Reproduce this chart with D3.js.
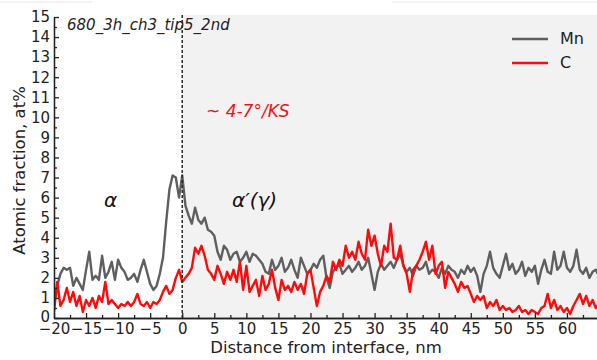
<!DOCTYPE html>
<html lang="en">
<head>
<meta charset="UTF-8">
<title>Atomic fraction profile</title>
<style>
html,body{margin:0; width:597px; height:360px; overflow:hidden; background:#fff; font-family:"DejaVu Sans", Arial, sans-serif;}
svg{display:block;}
.axis text{font-family:"DejaVu Sans", sans-serif; font-size:15px; fill:#222;}
.axis path,.axis line{stroke:#222; stroke-width:1.3;}
</style>
</head>
<body>
<svg width="597" height="360"></svg>
<script src="https://d3js.org/d3.v7.min.js"></script>
<script>
// distance grid, nm (0.5 nm step from -20 to 65)
const startNm = -20, stepNm = 0.5;

// Mn, at% (one row = 5 nm)
const mnValues = [
  0.8,1.6,2.2,2.5,2.4,2.5,1.6,2.0,1.7,1.4,
  2.4,3.3,1.9,2.1,1.9,3.1,2.0,2.3,2.8,1.9,
  2.9,2.5,2.3,1.9,2.0,2.2,1.8,2.4,2.9,2.3,
  1.7,1.4,1.6,2.2,3.0,4.8,6.4,7.1,7.0,6.0,
  7.1,5.6,5.1,4.7,5.5,4.9,4.7,5.0,4.4,4.3,
  4.1,3.3,2.9,3.6,3.4,2.9,3.2,3.3,2.8,3.0,
  3.3,2.8,3.2,3.1,2.9,2.7,2.3,2.2,2.9,2.4,
  2.6,3.0,2.3,2.5,2.9,2.4,2.0,3.0,2.6,2.2,
  2.4,2.7,2.5,2.9,3.1,2.0,1.5,2.3,2.5,2.7,
  2.2,2.4,2.6,2.3,2.5,2.8,2.4,2.6,3.0,2.2,
  1.4,2.3,2.7,2.4,2.6,2.8,2.5,2.9,3.2,2.6,
  2.3,2.5,2.1,2.6,2.4,2.5,2.8,2.2,2.4,2.3,
  2.0,2.5,2.2,2.6,2.4,2.3,2.0,2.4,2.2,2.6,
  2.3,2.5,2.1,1.3,2.2,2.6,3.3,2.5,2.2,2.0,
  2.6,3.2,2.4,2.7,2.2,2.4,2.8,2.1,2.5,2.3,
  2.6,1.7,2.4,2.9,2.3,2.2,3.3,2.4,2.6,3.3,
  2.5,2.3,2.6,3.4,2.4,2.2,2.5,2.0,2.3,2.4,
  2.1
];

// C, at%
const cValues = [
  0.3,1.8,0.6,0.9,1.5,0.8,1.3,0.6,1.1,0.3,
  0.9,0.6,1.0,0.5,1.1,0.8,1.8,0.7,0.9,0.7,
  0.5,0.7,0.6,0.8,0.6,0.8,1.2,0.7,0.6,0.8,
  0.5,0.8,0.7,0.9,1.3,1.6,1.2,1.4,2.0,2.4,
  1.8,2.0,2.2,2.5,3.5,3.2,3.6,3.1,2.4,2.2,
  1.9,2.6,2.2,1.7,2.3,1.9,2.4,1.8,2.8,1.4,
  2.6,1.3,1.6,1.9,1.1,2.1,1.4,1.7,2.4,1.5,
  0.9,1.9,1.4,1.6,1.3,1.8,1.4,1.7,1.2,2.2,
  2.4,1.5,0.6,1.3,1.6,2.1,1.8,2.8,2.4,2.9,
  2.6,3.6,3.0,3.3,2.9,3.8,3.2,2.9,4.4,3.6,
  4.1,3.2,2.6,3.6,3.3,4.7,3.0,2.9,3.6,2.6,
  2.2,1.3,2.4,2.6,2.9,3.3,3.8,2.9,3.6,2.2,
  2.6,2.8,1.5,2.3,2.0,1.7,1.3,1.8,1.5,1.6,
  1.2,0.8,1.1,0.9,1.1,0.5,0.8,0.6,0.9,0.4,
  0.6,0.4,0.5,0.3,0.4,0.6,0.3,0.4,0.2,0.4,
  0.3,0.2,0.5,0.6,1.2,0.5,0.9,0.4,0.6,0.3,
  0.5,0.2,0.6,0.9,1.2,0.7,1.1,0.6,0.9,0.5,
  0.7
];

const seriesNames = ["Mn", "C"];
const seriesColors = ["#5f5f5f", "#ff0a0a"];
const xMajorTicks = d3.range(-20, 61, 5);
const yMajorTicks = d3.range(0, 16, 1);

const svg = d3.select("svg");
const x = d3.scaleLinear().domain([-20, 65]).range([54, 599]);
const y = d3.scaleLinear().domain([0, 15]).range([318, 17]);

// shaded α'(γ) side
svg.append("rect")
  .attr("x", x(0)).attr("y", 15)
  .attr("width", x(65) - x(0) + 2).attr("height", y(0) - 15)
  .attr("fill", "#f2f2f2");

// faint strip at the top (cropped figure edge)
svg.append("line").attr("x1", 0).attr("x2", 92).attr("y1", 2).attr("y2", 2).attr("stroke", "#e6e6e6");
svg.append("line").attr("x1", 392).attr("x2", 597).attr("y1", 2).attr("y2", 2).attr("stroke", "#e6e6e6");

svg.append("clipPath").attr("id", "plot").append("rect")
  .attr("x", x(-20)).attr("y", y(15)).attr("width", x(65) - x(-20)).attr("height", y(0) - y(15));

const line = d3.line()
  .x((d, i) => x(startNm + i * stepNm))
  .y(d => y(d));

const lines = svg.append("g").attr("clip-path", "url(#plot)");
[mnValues, cValues].forEach((vals, k) => {
  lines.append("path")
    .datum(vals)
    .attr("d", line)
    .attr("fill", "none")
    .attr("stroke", seriesColors[k])
    .attr("stroke-width", 2.4)
    .attr("stroke-linejoin", "round");
});

// interface
svg.append("line")
  .attr("x1", x(0)).attr("x2", x(0))
  .attr("y1", 15).attr("y2", y(0))
  .attr("stroke", "#2a2a2a").attr("stroke-width", 1.5)
  .attr("stroke-dasharray", "3,2");

// axes
svg.append("g").attr("class", "axis")
  .attr("transform", `translate(0,${y(0)})`)
  .call(d3.axisBottom(x).tickValues(d3.range(-17.5, 65, 5)).tickSize(-3).tickSizeOuter(0).tickFormat(""));
svg.append("g").attr("class", "axis")
  .attr("transform", `translate(0,${y(0)})`)
  .call(d3.axisBottom(x).tickValues(xMajorTicks).tickSize(-5).tickSizeOuter(0).tickPadding(5))
  .call(g => g.selectAll("text").attr("dy", "0.72em"));

svg.append("g").attr("class", "axis")
  .attr("transform", `translate(${x(-20)},0)`)
  .call(d3.axisLeft(y).tickValues(d3.range(0.5, 15, 1)).tickSize(-3).tickSizeOuter(0).tickFormat(""));
svg.append("g").attr("class", "axis")
  .attr("transform", `translate(${x(-20)},0)`)
  .call(d3.axisLeft(y).tickValues(yMajorTicks).tickSize(-5).tickSizeOuter(0).tickPadding(4))
  .call(g => g.selectAll("text").filter(d => d === 0).attr("dy", "0.25em"));

// axis titles
svg.append("text")
  .attr("transform", `translate(25,${(y(0) + y(15)) / 2 + 3}) rotate(-90)`)
  .attr("text-anchor", "middle")
  .style("font-size", "16.5px").attr("fill", "#222")
  .text("Atomic fraction, at%");
svg.append("text")
  .attr("x", 326).attr("y", 353)
  .attr("text-anchor", "middle")
  .style("font-size", "16.5px").attr("fill", "#222")
  .text("Distance from interface, nm");

// annotations
svg.append("text").attr("x", 67).attr("y", 30)
  .style("font-size", "15px").style("font-style", "italic").attr("fill", "#222")
  .text("680_3h_ch3_tip5_2nd");
svg.append("text").attr("x", 206).attr("y", 117)
  .style("font-size", "17px").style("font-style", "italic").attr("fill", "#e8141b")
  .text("~ 4-7°/KS");
svg.append("text").attr("x", 104).attr("y", 207)
  .style("font-size", "20px").style("font-style", "italic").attr("fill", "#111")
  .text("α");
svg.append("text").attr("x", 232).attr("y", 207)
  .style("font-size", "20px").style("font-style", "italic").attr("fill", "#111")
  .text("α′(γ)");

// legend
const legend = svg.append("g").attr("transform", "translate(512,39)");
seriesNames.forEach((name, i) => {
  const g = legend.append("g").attr("transform", `translate(0,${i * 24})`);
  g.append("line").attr("x1", 0).attr("x2", 36).attr("stroke", seriesColors[i]).attr("stroke-width", 2.4);
  g.append("text").attr("x", 48).attr("y", 5).style("font-size", "16px").attr("fill", "#222").text(name);
});
</script>
</body>
</html>
